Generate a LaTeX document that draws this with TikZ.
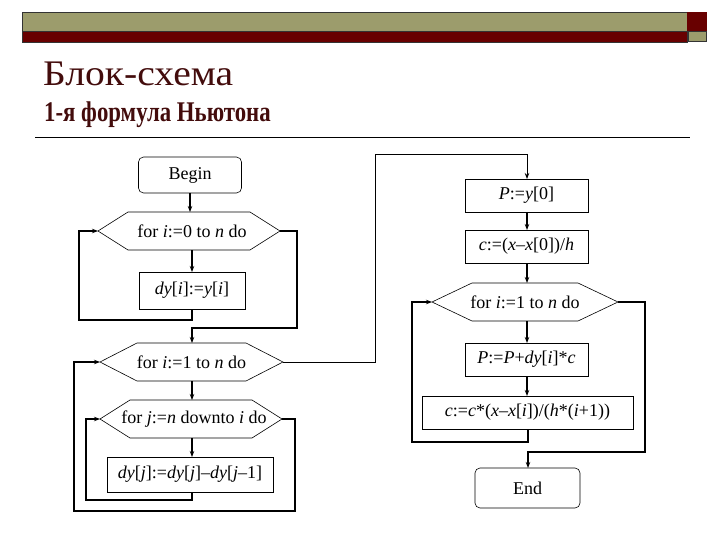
\documentclass[tikz,border=0pt]{standalone}
\usepackage{fontspec}
\usepackage{graphicx}
\setmainfont{Liberation Serif}
\usetikzlibrary{arrows.meta,calc}
\definecolor{olivebar}{HTML}{9C9C6C}
\definecolor{redbar}{HTML}{680000}
\definecolor{titlecol}{HTML}{430C0C}
\newcommand{\hexdraw}[2]{\draw[shapeline] (#1.west) -- ([xshift=#2pt]#1.north west) -- ([xshift=-#2pt]#1.north east) -- (#1.east) -- ([xshift=-#2pt]#1.south east) -- ([xshift=#2pt]#1.south west) -- cycle;}
\begin{document}
\begin{tikzpicture}[x=1pt,y=-1pt,
  shapeline/.style={line width=0.6pt},
  txt/.style={inner sep=0pt,outer sep=0pt,font=\fontsize{18}{20}\selectfont},
  box/.style={txt,draw,line width=0.6pt},
  rbox/.style={txt,draw,line width=0.6pt,rounded corners=5pt},
  hexnode/.style={txt,minimum height=38pt},
  conn/.style={line width=1.1pt,-{Stealth[length=6pt,width=4.5pt]}},
  loopline/.style={line width=1.5pt,-{Stealth[length=6pt,width=4.5pt]}},
  thinline/.style={line width=0.8pt,-{Stealth[length=6pt,width=4.5pt]}}
]
\useasboundingbox (0,0) rectangle (720,540);
% header bars
\fill[olivebar] (22,12.5) rectangle (687,31);
\fill[redbar] (22,31) rectangle (687,42);
\draw[black!80,line width=0.6pt] (22,12.5) rectangle (687,42);
\draw[black!80,line width=0.4pt] (22,31) -- (687,31);
\fill[redbar] (687,12.5) rectangle (707,31);
\fill[olivebar] (688,31) rectangle (706,41.5);
\draw[black!80,line width=0.4pt] (688,31) rectangle (706,41.5);
% titles
\node[anchor=base west,inner sep=0pt,text=titlecol,font=\fontsize{36}{40}\selectfont] (t1) at (43,86) {\scalebox{1.1}[1]{Блок-схема}};
\node[anchor=base west,inner sep=0pt,text=titlecol,font=\fontsize{28.5}{32}\selectfont\bfseries] (t2) at (44,122) {\scalebox{0.8}[1]{1-я формула Ньютона}};
\draw[line width=0.8pt] (35,137) -- (690,137);

% left column
\node[rbox,minimum width=103pt,minimum height=36pt] (begin) at (190,175) {Begin};
\node[hexnode,minimum width=182pt] (for1) at (189,231) {\hspace*{6pt}for \textit{i}:=0 to \textit{n} do};
\hexdraw{for1}{30}
\node[box,minimum width=106pt,minimum height=37pt] (dy1) at (192,290.5) {\textit{dy}[\textit{i}]:=\textit{y}[\textit{i}]};
\node[hexnode,minimum width=183pt] (for2) at (191.5,362) {for \textit{i}:=1 to \textit{n} do};
\hexdraw{for2}{37}
\node[hexnode,minimum width=182pt] (for3) at (191,419) {\hspace*{6pt}for \textit{j}:=\textit{n} downto \textit{i} do};
\hexdraw{for3}{30}
\node[box,minimum width=166pt,minimum height=35pt] (dy2) at (190,474.5) {\textit{dy}[\textit{j}]:=\textit{dy}[\textit{j}]–\textit{dy}[\textit{j}–1]};

% right column
\node[box,minimum width=123pt,minimum height=33pt] (p0) at (526.5,195.5) {\textit{P}:=\textit{y}[0]};
\node[box,minimum width=123pt,minimum height=33pt] (c0) at (526.5,246.5) {\textit{c}:=(\textit{x}–\textit{x}[0])/\textit{h}};
\node[hexnode,minimum width=186pt] (for4) at (525,302) {for \textit{i}:=1 to \textit{n} do};
\hexdraw{for4}{40}
\node[box,minimum width=123pt,minimum height=33pt] (p1) at (526.5,359.5) {\textit{P}:=\textit{P}+\textit{dy}[\textit{i}]*\textit{c}};
\node[box,minimum width=211pt,minimum height=33pt] (c1) at (527.5,412.5) {\textit{c}:=\textit{c}*(\textit{x}–\textit{x}[\textit{i}])/(\textit{h}*(\textit{i}+1))};
\node[rbox,minimum width=105pt,minimum height=40pt] (end) at (527.5,488) {End};

% connectors left
\draw[conn] (begin.south) -- (begin.south |- for1.north);
\draw[conn] (dy1.north |- for1.south) -- (dy1.north);
\draw[loopline] (dy1.south) -- (192,320) -- (79,320) -- (79,231) -- (for1.west);
\draw[loopline] (for1.east) -- (297,231) -- (297,328) -- (192,328) -- (for2.north -| 192,0);
\draw[conn] (for2.south -| 192,0) -- (for3.north -| 192,0);
\draw[conn] (for3.south -| 192,0) -- (dy2.north -| 192,0);
\draw[loopline] (dy2.south -| 192,0) -- (192,500) -- (86,500) -- (86,419) -- (for3.west);
\draw[loopline] (for3.east) -- (295,419) -- (295,511) -- (74,511) -- (74,362) -- (for2.west);
\draw[thinline] (for2.east) -- (375,362) -- (375,154) -- (527,154) -- (p0.north -| 527,0);

% connectors right
\draw[conn] (p0.south -| 527,0) -- (c0.north -| 527,0);
\draw[conn] (c0.south -| 527,0) -- (for4.north -| 527,0);
\draw[conn] (for4.south -| 527,0) -- (p1.north -| 527,0);
\draw[conn] (p1.south -| 527,0) -- (c1.north -| 527,0);
\draw[conn] (c1.south -| 528,0) -- (528,442) -- (412,442) -- (412,302) -- (for4.west);
\draw[loopline] (for4.east) -- (645,302) -- (645,452) -- (528,452) -- (end.north -| 528,0);
\end{tikzpicture}
\end{document}
